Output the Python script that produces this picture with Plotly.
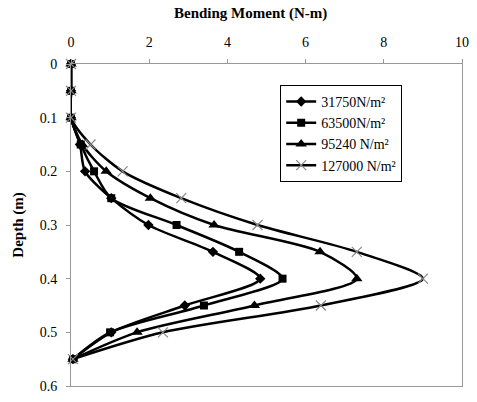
import plotly.graph_objects as go

depth = [0, 0.05, 0.10, 0.15, 0.20, 0.25, 0.30, 0.35, 0.40, 0.45, 0.50, 0.55]
m_31750 = [0, 0, 0, 0.23, 0.36, 1.03, 1.98, 3.63, 4.84, 2.91, 1.03, 0.05]
m_63500 = [0, 0, 0, 0.25, 0.59, 1.03, 2.70, 4.30, 5.41, 3.40, 1.00, 0.05]
m_95240 = [0, 0, 0, 0.29, 0.90, 2.03, 3.66, 6.37, 7.31, 4.69, 1.69, 0.05]
m_127000 = [0, 0, 0, 0.50, 1.32, 2.82, 4.77, 7.31, 9.00, 6.39, 2.35, 0.05]

names = ["31750N/m²", "63500N/m²", "95240 N/m²", "127000 N/m²"]
series = [m_31750, m_63500, m_95240, m_127000]
markers = [
    dict(symbol="diamond", size=8, color="black"),
    dict(symbol="square", size=8, color="black"),
    dict(symbol="triangle-up", size=10, color="black"),
    dict(symbol="x-thin", size=10, color="#888888", line=dict(color="#888888", width=1.2)),
]

FONT = "Liberation Serif, Times New Roman, serif"

fig = go.Figure()
for nm, vals, mk in zip(names, series, markers):
    fig.add_trace(go.Scatter(
        x=vals, y=depth, name=nm, mode="lines+markers",
        line=dict(color="black", width=2.5, shape="spline", smoothing=0.8),
        marker=mk, cliponaxis=False,
    ))

fig.update_layout(
    width=477, height=402,
    margin=dict(l=71, r=9, t=64, b=8),
    paper_bgcolor="white", plot_bgcolor="white",
    font=dict(family=FONT, size=14, color="black"),
    showlegend=True,
    legend=dict(
        x=0.535, y=0.935, xanchor="left", yanchor="top",
        bgcolor="white", bordercolor="black", borderwidth=1,
        font=dict(family=FONT, size=14, color="black"),
        tracegroupgap=0, itemwidth=30,
    ),
    annotations=[dict(
        text="<b>Bending Moment (N-m)</b>", xref="paper", yref="paper",
        x=0.46, y=1.0, yshift=51, showarrow=False, xanchor="center", yanchor="middle",
        font=dict(family=FONT, size=15, color="black"),
    )],
)
fig.update_xaxes(
    range=[0, 10], side="top", dtick=2, showgrid=False, zeroline=False,
    showline=True, linecolor="#999999", linewidth=1, mirror=True,
    ticks="outside", ticklen=4, tickcolor="#999999", ticklabelstandoff=6,
    tickfont=dict(family=FONT, size=14, color="black"),
)
fig.update_yaxes(
    range=[0.6, 0], dtick=0.1, showgrid=False, zeroline=False,
    showline=True, linecolor="#999999", linewidth=1, mirror=True,
    ticks="outside", ticklen=4, tickcolor="#999999", ticklabelstandoff=6,
    tickfont=dict(family=FONT, size=14, color="black"),
    title=dict(text="<b>Depth (m)</b>", font=dict(family=FONT, size=15, color="black"), standoff=12),
)

fig.write_html("out.html")
